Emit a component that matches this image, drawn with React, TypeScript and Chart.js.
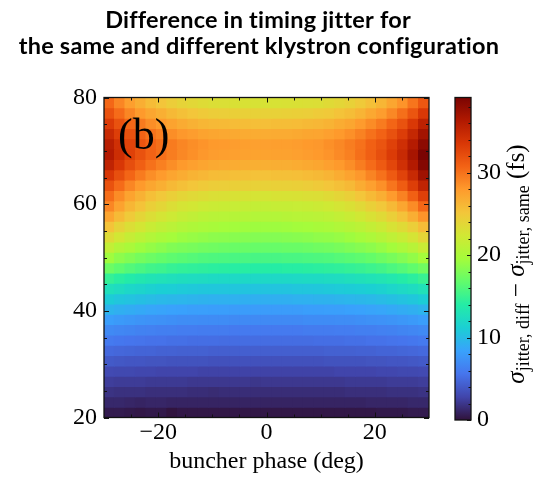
import React, { useEffect, useRef } from 'react';
import { Chart, registerables } from 'chart.js';

Chart.register(...registerables);

const SERIF = "'Liberation Serif', 'Times New Roman', serif";
const TITLE_FAMILY = "Lato, 'Open Sans', sans-serif";

const TITLE_LINES = ['Difference in timing jitter for', 'the same and different klystron configuration'];
const X_LABEL = 'buncher phase (deg)';
const PANEL_LABEL = '(b)';

const X_MIN = -30;
const X_MAX = 30;
const Y_MIN = 20;
const Y_MAX = 80;
const X_TICKS = [-20, 0, 20];
const X_MINOR = [-25, -15, -10, -5, 5, 10, 15, 25];
const Y_TICKS = [20, 40, 60, 80];
const Y_MINOR = [25, 30, 35, 45, 50, 55, 65, 70, 75];
const CB_TICKS = [0, 10, 20, 30];
const CB_MINOR = [2, 4, 6, 8, 12, 14, 16, 18, 22, 24, 26, 28, 32, 34, 36, 38];
const V_MIN = 0;
const V_MAX = 39.1;

// buncher phase samples (columns) and y samples (rows, top to bottom)
const PHASES = [-30, -28, -26, -24, -22, -20, -18, -16, -14, -12, -10, -8, -6, -4, -2, 0, 2, 4, 6, 8, 10, 12, 14, 16, 18, 20, 22, 24, 26, 28, 30];
const Y_VALUES = [80, 78, 76, 74, 72, 70, 68, 66, 64, 62, 60, 58, 56, 54, 52, 50, 48, 46, 44, 42, 40, 38, 36, 34, 32, 30, 28, 26, 24, 22, 20];

// jitter difference (fs), one row per Y_VALUES entry, one column per PHASES entry
const JITTER_DIFF: number[][] = [
  [30.5, 29.0, 27.7, 26.7, 25.8, 25.2, 24.6, 24.1, 23.7, 23.4, 23.2, 23.1, 23.0, 22.9, 22.8, 22.8, 22.8, 22.9, 23.0, 23.1, 23.2, 23.5, 23.8, 24.2, 24.8, 25.5, 26.2, 27.2, 28.3, 29.8, 31.5],
  [31.8, 30.3, 29.0, 28.0, 27.2, 26.6, 26.0, 25.5, 25.1, 24.8, 24.6, 24.5, 24.4, 24.3, 24.2, 24.2, 24.2, 24.3, 24.4, 24.5, 24.7, 24.9, 25.3, 25.7, 26.3, 27.1, 27.8, 28.9, 30.1, 31.6, 33.5],
  [33.3, 31.8, 30.5, 29.5, 28.6, 28.0, 27.4, 26.9, 26.5, 26.2, 26.0, 25.9, 25.8, 25.7, 25.6, 25.6, 25.7, 25.7, 25.8, 26.0, 26.1, 26.4, 26.8, 27.2, 27.9, 28.7, 29.5, 30.6, 31.8, 33.5, 35.5],
  [34.7, 33.1, 31.8, 30.8, 29.9, 29.3, 28.6, 28.1, 27.8, 27.4, 27.2, 27.1, 27.0, 26.9, 26.8, 26.8, 26.9, 26.9, 27.0, 27.2, 27.3, 27.6, 28.0, 28.5, 29.2, 30.0, 30.8, 31.9, 33.2, 35.0, 37.0],
  [35.8, 34.2, 32.8, 31.7, 30.8, 30.1, 29.5, 29.0, 28.6, 28.3, 28.0, 27.9, 27.8, 27.7, 27.6, 27.6, 27.7, 27.7, 27.8, 28.0, 28.1, 28.5, 28.9, 29.4, 30.0, 30.9, 31.7, 32.9, 34.3, 36.1, 38.2],
  [36.2, 34.4, 32.9, 31.8, 30.8, 30.1, 29.4, 28.9, 28.5, 28.1, 27.8, 27.7, 27.6, 27.5, 27.4, 27.4, 27.5, 27.5, 27.6, 27.8, 28.0, 28.3, 28.8, 29.3, 30.1, 31.0, 32.0, 33.3, 34.8, 36.8, 39.1],
  [35.3, 33.6, 32.1, 31.0, 30.0, 29.3, 28.6, 28.0, 27.6, 27.3, 27.0, 26.9, 26.8, 26.7, 26.6, 26.6, 26.7, 26.7, 26.8, 27.0, 27.2, 27.6, 28.0, 28.6, 29.4, 30.3, 31.3, 32.6, 34.2, 36.2, 38.6],
  [33.6, 32.0, 30.6, 29.5, 28.6, 27.9, 27.3, 26.8, 26.4, 26.1, 25.8, 25.7, 25.6, 25.5, 25.4, 25.4, 25.5, 25.5, 25.6, 25.8, 26.0, 26.3, 26.8, 27.4, 28.1, 29.1, 30.0, 31.3, 32.8, 34.8, 37.2],
  [31.8, 30.3, 29.0, 28.0, 27.2, 26.6, 26.0, 25.5, 25.1, 24.8, 24.6, 24.5, 24.4, 24.3, 24.2, 24.2, 24.3, 24.3, 24.4, 24.6, 24.8, 25.1, 25.5, 26.0, 26.8, 27.6, 28.5, 29.8, 31.2, 33.1, 35.3],
  [30.2, 28.7, 27.4, 26.5, 25.6, 25.0, 24.4, 23.9, 23.6, 23.3, 23.1, 23.0, 22.9, 22.8, 22.7, 22.7, 22.8, 22.8, 22.9, 23.1, 23.2, 23.5, 23.9, 24.4, 25.1, 25.9, 26.7, 27.9, 29.2, 30.9, 33.0],
  [29.0, 27.5, 26.2, 25.3, 24.4, 23.8, 23.2, 22.7, 22.4, 22.1, 21.9, 21.8, 21.7, 21.6, 21.5, 21.5, 21.6, 21.6, 21.7, 21.8, 22.0, 22.2, 22.6, 23.0, 23.6, 24.3, 25.0, 26.0, 27.2, 28.7, 30.5],
  [27.3, 25.9, 24.8, 23.9, 23.2, 22.6, 22.1, 21.6, 21.3, 21.0, 20.8, 20.7, 20.6, 20.6, 20.5, 20.5, 20.5, 20.6, 20.7, 20.8, 20.9, 21.1, 21.4, 21.8, 22.3, 22.9, 23.5, 24.4, 25.4, 26.7, 28.3],
  [25.3, 24.1, 23.2, 22.5, 21.8, 21.3, 20.9, 20.5, 20.2, 20.0, 19.8, 19.6, 19.5, 19.4, 19.3, 19.3, 19.3, 19.4, 19.5, 19.6, 19.8, 20.0, 20.3, 20.6, 21.0, 21.5, 22.0, 22.8, 23.5, 24.5, 25.8],
  [23.4, 22.4, 21.6, 21.0, 20.4, 19.9, 19.6, 19.2, 19.0, 18.8, 18.6, 18.5, 18.4, 18.3, 18.2, 18.2, 18.2, 18.3, 18.4, 18.5, 18.7, 18.8, 19.0, 19.3, 19.7, 20.1, 20.6, 21.2, 21.8, 22.7, 23.8],
  [21.4, 20.5, 19.9, 19.3, 18.9, 18.5, 18.1, 17.9, 17.7, 17.5, 17.4, 17.2, 17.1, 17.1, 17.0, 17.0, 17.0, 17.1, 17.1, 17.2, 17.4, 17.5, 17.7, 18.0, 18.3, 18.6, 19.0, 19.5, 20.1, 20.8, 21.8],
  [19.4, 18.6, 18.1, 17.6, 17.2, 16.9, 16.6, 16.4, 16.2, 16.0, 15.9, 15.8, 15.7, 15.7, 15.6, 15.6, 15.6, 15.7, 15.7, 15.8, 15.9, 16.0, 16.2, 16.4, 16.6, 16.9, 17.3, 17.7, 18.2, 18.8, 19.6],
  [17.2, 16.6, 16.1, 15.7, 15.3, 15.1, 14.8, 14.6, 14.5, 14.4, 14.3, 14.2, 14.1, 14.1, 14.0, 14.0, 14.0, 14.1, 14.1, 14.2, 14.3, 14.4, 14.5, 14.7, 14.9, 15.1, 15.4, 15.8, 16.2, 16.7, 17.4],
  [14.7, 14.2, 13.8, 13.4, 13.1, 12.9, 12.7, 12.5, 12.4, 12.3, 12.2, 12.1, 12.1, 12.0, 12.0, 12.0, 12.0, 12.0, 12.1, 12.2, 12.2, 12.3, 12.4, 12.6, 12.8, 13.0, 13.2, 13.5, 13.9, 14.3, 14.9],
  [12.7, 12.3, 11.9, 11.7, 11.4, 11.2, 11.1, 10.9, 10.8, 10.7, 10.7, 10.6, 10.6, 10.5, 10.5, 10.5, 10.5, 10.5, 10.6, 10.6, 10.7, 10.8, 10.9, 11.0, 11.1, 11.3, 11.5, 11.8, 12.1, 12.4, 12.9],
  [11.0, 10.6, 10.4, 10.2, 10.0, 9.8, 9.7, 9.6, 9.5, 9.4, 9.3, 9.3, 9.3, 9.2, 9.2, 9.2, 9.2, 9.2, 9.3, 9.3, 9.4, 9.4, 9.5, 9.6, 9.7, 9.8, 10.0, 10.2, 10.4, 10.7, 11.1],
  [9.5, 9.2, 9.0, 8.8, 8.6, 8.5, 8.4, 8.3, 8.2, 8.2, 8.1, 8.1, 8.0, 8.0, 8.0, 8.0, 8.0, 8.0, 8.0, 8.1, 8.1, 8.2, 8.2, 8.3, 8.4, 8.5, 8.6, 8.8, 9.0, 9.2, 9.5],
  [8.1, 7.9, 7.7, 7.5, 7.4, 7.3, 7.2, 7.1, 7.1, 7.0, 7.0, 7.0, 6.9, 6.9, 6.9, 6.9, 6.9, 6.9, 6.9, 7.0, 7.0, 7.0, 7.1, 7.1, 7.2, 7.3, 7.4, 7.5, 7.7, 7.9, 8.1],
  [6.9, 6.7, 6.6, 6.4, 6.3, 6.2, 6.2, 6.1, 6.1, 6.0, 6.0, 6.0, 5.9, 5.9, 5.9, 5.9, 5.9, 5.9, 5.9, 6.0, 6.0, 6.0, 6.1, 6.1, 6.2, 6.2, 6.3, 6.4, 6.6, 6.7, 6.9],
  [5.9, 5.7, 5.6, 5.5, 5.4, 5.4, 5.3, 5.3, 5.2, 5.2, 5.2, 5.1, 5.1, 5.1, 5.1, 5.1, 5.1, 5.1, 5.1, 5.1, 5.2, 5.2, 5.2, 5.3, 5.3, 5.4, 5.4, 5.5, 5.6, 5.7, 5.9],
  [4.9, 4.8, 4.7, 4.6, 4.6, 4.5, 4.5, 4.4, 4.4, 4.4, 4.3, 4.3, 4.3, 4.3, 4.3, 4.3, 4.3, 4.3, 4.3, 4.3, 4.3, 4.4, 4.4, 4.4, 4.5, 4.5, 4.6, 4.6, 4.7, 4.8, 4.9],
  [4.0, 3.9, 3.8, 3.8, 3.7, 3.7, 3.6, 3.6, 3.6, 3.6, 3.5, 3.5, 3.5, 3.5, 3.5, 3.5, 3.5, 3.5, 3.5, 3.5, 3.5, 3.6, 3.6, 3.6, 3.6, 3.7, 3.7, 3.8, 3.8, 3.9, 4.0],
  [3.1, 3.0, 3.0, 2.9, 2.9, 2.8, 2.8, 2.8, 2.8, 2.7, 2.7, 2.7, 2.7, 2.7, 2.7, 2.7, 2.7, 2.7, 2.7, 2.7, 2.7, 2.7, 2.8, 2.8, 2.8, 2.8, 2.9, 2.9, 3.0, 3.0, 3.1],
  [2.4, 2.3, 2.3, 2.3, 2.2, 2.2, 2.2, 2.2, 2.1, 2.1, 2.1, 2.1, 2.1, 2.1, 2.0, 2.1, 2.1, 2.1, 2.1, 2.1, 2.1, 2.1, 2.1, 2.2, 2.2, 2.2, 2.2, 2.3, 2.3, 2.3, 2.4],
  [1.8, 1.7, 1.7, 1.7, 1.6, 1.6, 1.6, 1.6, 1.5, 1.5, 1.4, 1.5, 1.5, 1.5, 1.5, 1.5, 1.5, 1.5, 1.5, 1.5, 1.5, 1.5, 1.5, 1.6, 1.6, 1.6, 1.6, 1.7, 1.7, 1.7, 1.8],
  [1.2, 1.2, 1.1, 1.0, 1.1, 1.1, 1.0, 1.0, 1.0, 1.0, 1.0, 1.0, 1.0, 1.0, 1.0, 1.0, 1.0, 1.0, 1.0, 1.0, 1.0, 1.0, 1.0, 1.0, 1.0, 1.1, 1.1, 1.1, 1.1, 1.2, 1.2],
  [0.5, 0.5, 0.4, 0.3, 0.4, 0.4, 0.1, 0.3, 0.3, 0.3, 0.3, 0.3, 0.3, 0.3, 0.3, 0.3, 0.3, 0.3, 0.3, 0.3, 0.3, 0.3, 0.3, 0.3, 0.3, 0.3, 0.4, 0.4, 0.4, 0.5, 0.5],
];

// turbo colormap samples
const TURBO = ['#30123b', '#4145ab', '#4675ed', '#39a2fc', '#1bcfd4', '#24eca6', '#61fc6c', '#a4fc3b', '#d1e834', '#f3c63a', '#fe9b2d', '#f36315', '#d93806', '#b11901', '#7a0402'];

function hexToRgb(h: string): number[] {
  return [parseInt(h.slice(1, 3), 16), parseInt(h.slice(3, 5), 16), parseInt(h.slice(5, 7), 16)];
}

function turbo(t: number): string {
  const tt = Math.min(1, Math.max(0, t)) * (TURBO.length - 1);
  const i = Math.min(TURBO.length - 2, Math.floor(tt));
  const f = tt - i;
  const a = hexToRgb(TURBO[i]);
  const b = hexToRgb(TURBO[i + 1]);
  const c = a.map((v, n) => Math.round(v + (b[n] - v) * f));
  return `rgb(${c[0]},${c[1]},${c[2]})`;
}

const fmt = (v: number) => (v < 0 ? '\u2212' + Math.abs(v) : String(v));

function mainConfig(): any {
  const cw = (X_MAX - X_MIN) / PHASES.length;
  const ch = (Y_MAX - Y_MIN) / Y_VALUES.length;
  const datasets = Y_VALUES.map((_yv, k) => ({
    data: PHASES.map((_p, j) => ({
      x: X_MIN + (j + 0.5) * cw,
      y: [Y_MAX - (k + 1) * ch, Y_MAX - k * ch],
    })),
    backgroundColor: JITTER_DIFF[k].map((v) => turbo((v - V_MIN) / (V_MAX - V_MIN))),
    borderWidth: 0,
    grouped: false,
    barPercentage: 1,
    categoryPercentage: 1,
    inflateAmount: 0.5,
  }));

  const frame = {
    id: 'mainFrame',
    afterDatasetsDraw(chart: any) {
      const { ctx, chartArea: a, scales } = chart;
      const x = scales.x;
      const y = scales.y;
      ctx.save();
      ctx.strokeStyle = '#111';
      ctx.lineWidth = 1.3;
      ctx.strokeRect(a.left, a.top, a.right - a.left, a.bottom - a.top);
      ctx.lineWidth = 1;
      const vline = (v: number, len: number) => {
        const p = Math.round(x.getPixelForValue(v)) + 0.5;
        ctx.beginPath();
        ctx.moveTo(p, a.bottom);
        ctx.lineTo(p, a.bottom - len);
        ctx.moveTo(p, a.top);
        ctx.lineTo(p, a.top + len);
        ctx.stroke();
      };
      const hline = (v: number, len: number) => {
        const p = Math.round(y.getPixelForValue(v)) + 0.5;
        ctx.beginPath();
        ctx.moveTo(a.left, p);
        ctx.lineTo(a.left + len, p);
        ctx.moveTo(a.right, p);
        ctx.lineTo(a.right - len, p);
        ctx.stroke();
      };
      X_TICKS.forEach((v) => vline(v, 5));
      X_MINOR.forEach((v) => vline(v, 3));
      Y_TICKS.forEach((v) => hline(v, 5));
      Y_MINOR.forEach((v) => hline(v, 3));
      ctx.fillStyle = '#000';
      ctx.font = `44px ${SERIF}`;
      ctx.textAlign = 'left';
      ctx.textBaseline = 'alphabetic';
      ctx.fillText(PANEL_LABEL, a.left + 14, a.top + 51.5);
      ctx.restore();
    },
    afterDraw(chart: any) {
      // two-line bold title, centred over the whole figure
      const { ctx } = chart;
      ctx.save();
      ctx.fillStyle = '#000';
      ctx.textAlign = 'center';
      ctx.textBaseline = 'alphabetic';
      if ('letterSpacing' in ctx) (ctx as any).letterSpacing = '0.2px';
      ctx.font = `bold 20px ${TITLE_FAMILY}`;
      const w = ctx.measureText(TITLE_LINES[1]).width;
      const size = (20 * 482) / w;
      ctx.font = `bold ${size.toFixed(2)}px ${TITLE_FAMILY}`;
      ctx.fillText(TITLE_LINES[0], 258, 28);
      ctx.fillText(TITLE_LINES[1], 259, 54);
      ctx.restore();
    },
  };

  const tickFont = { family: SERIF, size: 24, lineHeight: 1 };

  return {
    type: 'bar',
    data: { datasets },
    options: {
      animation: false,
      responsive: false,
      devicePixelRatio: 1,
      events: [],
      layout: { padding: { left: 73, right: 104, top: 97.5, bottom: 0 } },
      plugins: {
        legend: { display: false },
        tooltip: { enabled: false },
        title: { display: false },
      },
      scales: {
        x: {
          type: 'linear',
          min: X_MIN,
          max: X_MAX,
          offset: false,
          grid: { display: false, drawTicks: false },
          border: { display: false },
          afterBuildTicks: (s: any) => {
            s.ticks = X_TICKS.map((v) => ({ value: v }));
          },
          ticks: { font: tickFont, color: '#000', padding: 3, maxRotation: 0, autoSkip: false, callback: (v: any) => fmt(Number(v)) },
          title: { display: true, text: X_LABEL, color: '#000', font: tickFont, padding: { top: 2.5, bottom: 6 } },
        },
        y: {
          type: 'linear',
          min: Y_MIN,
          max: Y_MAX,
          stacked: false,
          grid: { display: false, drawTicks: false },
          border: { display: false },
          afterBuildTicks: (s: any) => {
            s.ticks = Y_TICKS.map((v) => ({ value: v }));
          },
          afterFit: (s: any) => {
            s.width = 31;
          },
          ticks: { font: tickFont, color: '#000', padding: 7, autoSkip: false, callback: (v: any) => fmt(Number(v)) },
        },
      },
    },
    plugins: [frame],
  };
}

function cbConfig(): any {
  const cbFrame = {
    id: 'cbFrame',
    afterDraw(chart: any) {
      const { ctx, chartArea: a, scales } = chart;
      const y = scales.y;
      ctx.save();
      ctx.strokeStyle = '#111';
      ctx.lineWidth = 1.3;
      ctx.strokeRect(a.left, a.top, a.right - a.left, a.bottom - a.top);
      ctx.lineWidth = 1;
      const tick = (v: number, len: number) => {
        const p = Math.round(y.getPixelForValue(v)) + 0.5;
        ctx.beginPath();
        ctx.moveTo(a.right, p);
        ctx.lineTo(a.right - len, p);
        ctx.stroke();
      };
      CB_TICKS.forEach((v) => tick(v, 4));
      CB_MINOR.forEach((v) => tick(v, 2.5));

      // rotated label: sigma_{jitter, diff} - sigma_{jitter, same} (fs)
      const pieces = [
        { t: '\u03c3', f: `italic 25px ${SERIF}`, dy: 0 },
        { t: 'jitter, diff', f: `18px ${SERIF}`, dy: 5 },
        { t: ' \u2212 ', f: `25px ${SERIF}`, dy: 0 },
        { t: '\u03c3', f: `italic 25px ${SERIF}`, dy: 0 },
        { t: 'jitter, same', f: `18px ${SERIF}`, dy: 5 },
        { t: ' (fs)', f: `25px ${SERIF}`, dy: 0 },
      ];
      let total = 0;
      const widths = pieces.map((p) => {
        ctx.font = p.f;
        const w = ctx.measureText(p.t).width;
        total += w;
        return w;
      });
      ctx.translate(524, 264);
      ctx.rotate(-Math.PI / 2);
      ctx.fillStyle = '#000';
      ctx.textAlign = 'left';
      ctx.textBaseline = 'alphabetic';
      let cx = -total / 2;
      pieces.forEach((p, i) => {
        ctx.font = p.f;
        ctx.fillText(p.t, cx, p.dy);
        cx += widths[i];
      });
      ctx.restore();
    },
  };

  return {
    type: 'bar',
    data: {
      labels: [''],
      datasets: [
        {
          data: [[V_MIN, V_MAX]],
          borderWidth: 0,
          barPercentage: 1,
          categoryPercentage: 1,
          backgroundColor: (c: any) => {
            const chart = c.chart;
            const ys = chart.scales && chart.scales.y;
            if (!chart.chartArea || !ys) return TURBO[0];
            const g = chart.ctx.createLinearGradient(0, ys.getPixelForValue(V_MIN), 0, ys.getPixelForValue(V_MAX));
            TURBO.forEach((col, i) => g.addColorStop(i / (TURBO.length - 1), col));
            return g;
          },
        },
      ],
    },
    options: {
      animation: false,
      responsive: false,
      devicePixelRatio: 1,
      events: [],
      layout: { padding: { left: 455, right: 0, top: 97.5, bottom: 60 } },
      plugins: { legend: { display: false }, tooltip: { enabled: false }, title: { display: false } },
      scales: {
        x: { display: false },
        y: {
          position: 'right',
          min: V_MIN,
          max: V_MAX,
          grid: { display: false, drawTicks: false },
          border: { display: false },
          afterBuildTicks: (s: any) => {
            s.ticks = CB_TICKS.map((v) => ({ value: v }));
          },
          afterFit: (s: any) => {
            s.width = 62;
          },
          ticks: { font: { family: SERIF, size: 24, lineHeight: 1 }, color: '#000', padding: 6, autoSkip: false },
        },
      },
    },
    plugins: [cbFrame],
  };
}

export default function App() {
  const mainRef = useRef<HTMLCanvasElement>(null);
  const cbRef = useRef<HTMLCanvasElement>(null);

  useEffect(() => {
    if (!mainRef.current || !cbRef.current) return;
    const main = new Chart(mainRef.current, mainConfig());
    const cb = new Chart(cbRef.current, cbConfig());
    return () => {
      main.destroy();
      cb.destroy();
    };
  }, []);

  return (
    <div style={{ position: 'absolute', left: 0, top: 0, width: 533, height: 480, background: '#fff' }}>
      <canvas ref={mainRef} width={533} height={480} style={{ position: 'absolute', left: 0, top: 0 }} />
      <canvas ref={cbRef} width={533} height={480} style={{ position: 'absolute', left: 0, top: 0 }} />
    </div>
  );
}
